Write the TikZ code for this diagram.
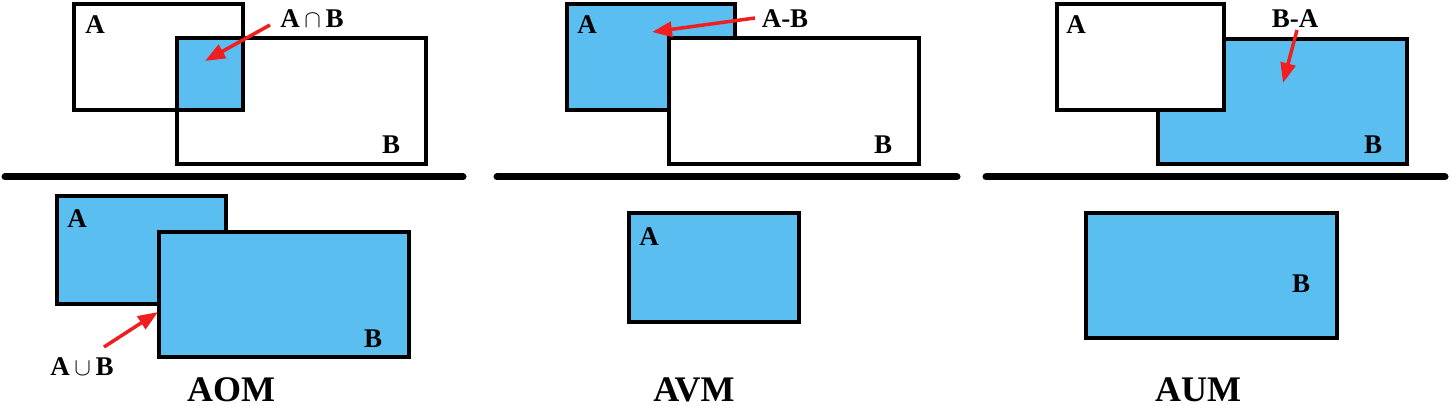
\documentclass[tikz,border=0pt]{standalone}
\usepackage{fontspec}
\setmainfont{Liberation Serif}[BoldFont={Liberation Serif Bold}]
\newfontfamily\tnr{Liberation Serif}[UprightFont={* Bold}]
\usetikzlibrary{arrows.meta}
\definecolor{setblue}{RGB}{90,191,240}
\definecolor{arrred}{RGB}{240,30,30}
\begin{document}
\begin{tikzpicture}[x=1pt,y=-1pt,
  box/.style={draw=black,line width=4pt,line join=miter,rectangle,inner sep=0pt,outer sep=0pt},
  wbox/.style={box,fill=white},
  bbox/.style={box,fill=setblue},
  lbl/.style={font=\tnr\fontsize{27}{27}\selectfont,anchor=base,inner sep=0pt},
  ttl/.style={font=\tnr\fontsize{36}{36}\selectfont,anchor=base,inner sep=0pt},
  sep/.style={line width=7pt,line cap=round},
  pointer/.style={draw=arrred,line width=3.5pt,-{Triangle[length=20pt,width=15pt]}}
]
\useasboundingbox (0,0) rectangle (1450,406);

% ---------- Panel 1 top ----------
\fill[setblue] (177,38) rectangle (243,110);
\node[box,minimum width=169pt,minimum height=106pt] (a1) at (158.5,57) {};
\node[box,minimum width=249pt,minimum height=126pt] (b1) at (301.5,101) {};
\node[lbl] (la1) at (95,34) {A};
\node[lbl] (lb1) at (391,154) {B};
\node[lbl] (int) at (312,28) {A\,$\cap$\,B};
\coordinate (t1) at (205,61);
\coordinate (s1) at (270,25);
\draw[pointer] (s1) -- (t1);
\draw[sep] (5,177) -- (463,177);

% ---------- Panel 1 bottom ----------
\node[bbox,minimum width=169pt,minimum height=108pt] (a2) at (141.5,250) {};
\node[bbox,minimum width=250pt,minimum height=125pt] (b2) at (284,294.5) {};
\node[lbl] (la2) at (77,227) {A};
\node[lbl] (lb2) at (373,347) {B};
\node[lbl] (uni) at (82,375) {A\,$\cup$\,B};
\coordinate (s2) at (104,347);
\coordinate (t2) at (158,312);
\draw[pointer] (s2) -- (t2);
\node[ttl] (aom) at (231,401) {AOM};

% ---------- Panel 2 top ----------
\node[bbox,minimum width=168pt,minimum height=106pt] (a3) at (651,57) {};
\node[wbox,minimum width=250pt,minimum height=126pt] (b3) at (794,101) {};
\node[lbl] (la3) at (587,34) {A};
\node[lbl] (lb3) at (883,154) {B};
\node[lbl] (amb) at (785,28) {A-B};
\coordinate (s3) at (755,18);
\coordinate (t3) at (652,32);
\draw[pointer] (s3) -- (t3);
\draw[sep] (497,177) -- (957,177);

% ---------- Panel 2 bottom ----------
\node[bbox,minimum width=170pt,minimum height=109pt] (a4) at (714,267.5) {};
\node[lbl] (la4) at (649,245) {A};
\node[ttl] (avm) at (694,401) {AVM};

% ---------- Panel 3 top ----------
\node[bbox,minimum width=249pt,minimum height=125pt] (b5) at (1282.5,101.5) {};
\node[wbox,minimum width=167pt,minimum height=106pt] (a5) at (1140.5,57) {};
\node[lbl] (la5) at (1076,34) {A};
\node[lbl] (lb5) at (1373,154) {B};
\node[lbl] (bma) at (1295,28) {B-A};
\coordinate (s5) at (1297,30);
\coordinate (t5) at (1283,83);
\draw[pointer] (s5) -- (t5);
\draw[sep] (986,177) -- (1445,177);

% ---------- Panel 3 bottom ----------
\node[bbox,minimum width=251pt,minimum height=125pt] (b6) at (1211.5,275.5) {};
\node[lbl] (lb6) at (1301,292) {B};
\node[ttl] (aum) at (1198,401) {AUM};
\end{tikzpicture}
\end{document}
